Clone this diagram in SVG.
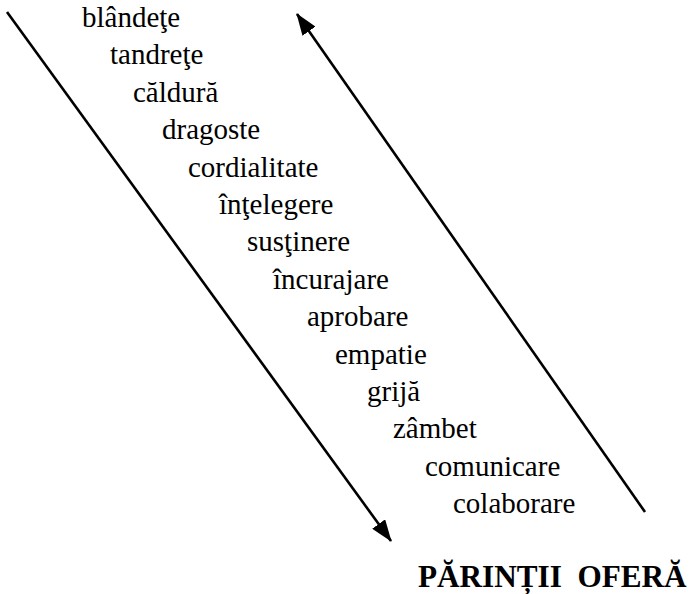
<svg xmlns="http://www.w3.org/2000/svg" width="692" height="594" viewBox="0 0 692 594">
<defs>
<style>
.w{font-family:"Liberation Serif","Times New Roman",serif;font-size:29px;fill:#000}
.t{font-family:"Liberation Serif","Times New Roman",serif;font-size:31.2px;font-weight:bold;fill:#000}
.ln{stroke:#000;stroke-width:2.6;fill:none}
</style>
<marker id="ah" markerUnits="userSpaceOnUse" markerWidth="22" markerHeight="16" refX="21" refY="8" orient="auto" viewBox="0 0 22 16">
<path d="M0,0 L22,8 L0,16 z" fill="#000"/>
</marker>
</defs>
<rect width="692" height="594" fill="#fff"/>
<g id="connectors">
<line class="ln" x1="7" y1="12" x2="391" y2="541" marker-end="url(#ah)"/>
<line class="ln" x1="645" y1="512" x2="297" y2="14" marker-end="url(#ah)"/>
</g>
<g id="words">
<text class="w" x="82" y="27">blândeţe</text>
<text class="w" x="110" y="64.4">tandreţe</text>
<text class="w" x="133" y="101.8">căldură</text>
<text class="w" x="162" y="139.2">dragoste</text>
<text class="w" x="188" y="176.6">cordialitate</text>
<text class="w" x="219" y="214">înţelegere</text>
<text class="w" x="247" y="251.4">susţinere</text>
<text class="w" x="273" y="288.8">încurajare</text>
<text class="w" x="307" y="326.2">aprobare</text>
<text class="w" x="335" y="363.6">empatie</text>
<text class="w" x="367" y="401">grijă</text>
<text class="w" x="393" y="438.4">zâmbet</text>
<text class="w" x="425" y="475.8">comunicare</text>
<text class="w" x="453" y="513.2">colaborare</text>
</g>
<g id="title">
<text class="t" x="418" y="587" xml:space="preserve" style="white-space:pre">PĂRINȚII  OFERĂ</text>
</g>
</svg>
